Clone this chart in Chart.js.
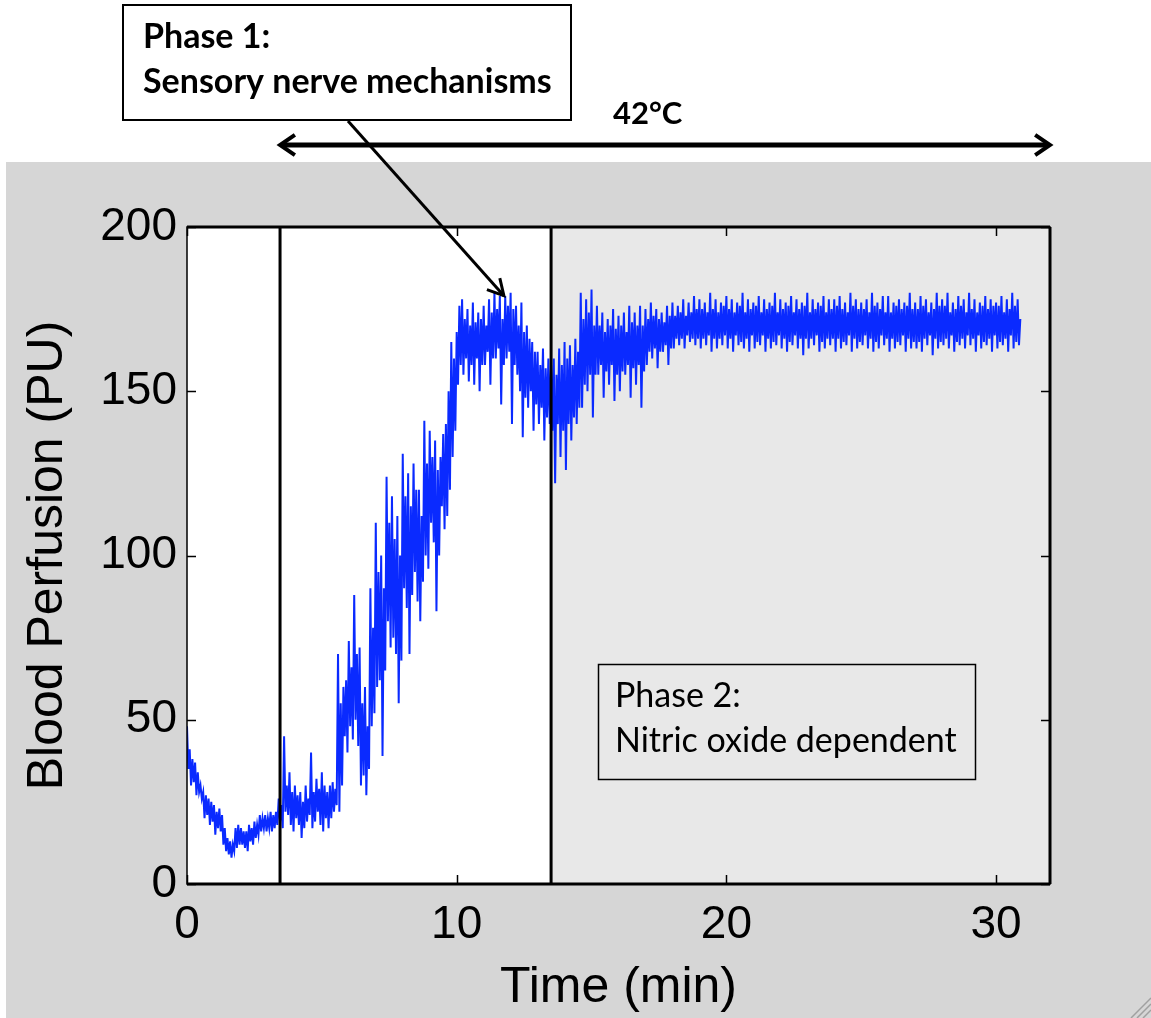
<!DOCTYPE html>
<html>
<head>
<meta charset="utf-8">
<script src="https://cdn.jsdelivr.net/npm/chart.js@4.4.1/dist/chart.umd.min.js"></script>
<style>
  html, body { margin: 0; padding: 0; background: #fff; }
  #wrap { position: relative; width: 1151px; height: 1018px; }
</style>
</head>
<body>
<div id="wrap"><canvas id="perfChart" width="1151" height="1018"></canvas></div>
<script>
// Laser Doppler trace, one reading every 0.05 min, one row per minute
const sampleStep = 0.05;
const perfusion = [
  48, 35, 41, 30, 38, 31, 37, 27, 34, 28, 30, 26, 28, 20, 27, 21, 26, 18, 25, 19,
  24, 15, 22, 17, 23, 16, 21, 12, 17, 10, 14, 9, 13, 8, 12, 10, 17, 11, 18, 12,
  17, 12, 16, 11, 16, 10, 18, 13, 17, 12, 19, 14, 18, 15, 21, 16, 20, 17, 21, 16,
  20, 17, 22, 16, 21, 17, 22, 18, 26, 19, 24, 17, 45, 22, 30, 21, 34, 18, 28, 16,
  30, 20, 27, 18, 28, 14, 25, 17, 30, 19, 26, 21, 40, 17, 28, 19, 32, 22, 29, 18,
  34, 16, 30, 20, 28, 17, 30, 20, 31, 22, 29, 24, 70, 22, 55, 30, 60, 45, 62, 40,
  74, 48, 66, 44, 88, 50, 70, 42, 72, 30, 55, 33, 60, 27, 48, 35, 90, 48, 78, 52,
  110, 60, 95, 62, 100, 39, 90, 65, 124, 80, 110, 72, 118, 75, 105, 70, 112, 55, 100, 68,
  131, 90, 118, 84, 125, 70, 115, 88, 128, 95, 120, 86, 120, 80, 112, 92, 141, 100, 128, 96,
  138, 110, 130, 104, 135, 83, 126, 100, 130, 115, 137, 108, 140, 112, 150, 120, 165, 130, 160, 138,
  168, 152, 176, 158, 178, 155, 172, 160, 175, 153, 170, 158, 177, 152, 171, 160, 174, 150, 172, 158,
  176, 158, 170, 162, 178, 152, 174, 160, 180, 160, 175, 163, 179, 146, 172, 158, 179, 160, 176, 162,
  180, 140, 175, 158, 176, 155, 170, 150, 177, 136, 168, 148, 170, 145, 166, 150, 165, 138, 162, 146,
  162, 140, 158, 145, 163, 135, 157, 142, 160, 140, 158, 138, 160, 122, 155, 140, 163, 130, 158, 138,
  165, 126, 160, 140, 164, 135, 158, 142, 166, 140, 162, 145, 180, 145, 172, 152, 178, 150, 174, 155,
  181, 142, 170, 155, 176, 155, 170, 158, 174, 148, 168, 156, 172, 152, 170, 158, 175, 147, 169, 155,
  173, 150, 170, 156, 174, 155, 168, 158, 176, 148, 171, 157, 174, 152, 170, 158, 176, 145, 170, 156,
  175, 158, 172, 162, 177, 160, 173, 163, 175, 157, 172, 162, 174, 162, 171, 164, 176, 158, 173, 163,
  177, 163, 173, 166, 176, 164, 174, 166, 178, 163, 173, 167, 177, 165, 174, 166, 179, 164, 175, 166,
  178, 163, 175, 166, 177, 164, 174, 167, 180, 162, 175, 166, 178, 163, 174, 166, 177, 164, 176, 167,
  179, 163, 175, 166, 178, 162, 174, 167, 177, 164, 176, 165, 180, 163, 174, 166, 178, 162, 175, 167,
  177, 163, 176, 165, 179, 164, 174, 167, 178, 162, 175, 166, 177, 163, 176, 165, 180, 164, 174, 167,
  178, 163, 175, 166, 177, 162, 176, 165, 179, 164, 174, 167, 178, 163, 175, 166, 177, 161, 176, 166,
  180, 163, 174, 166, 178, 164, 175, 167, 177, 162, 176, 165, 179, 163, 174, 166, 178, 164, 175, 166,
  178, 162, 176, 166, 179, 163, 175, 165, 177, 164, 174, 167, 180, 162, 176, 166, 178, 163, 175, 165,
  177, 164, 175, 167, 178, 163, 174, 166, 180, 162, 176, 165, 177, 163, 175, 167, 179, 164, 174, 166,
  179, 162, 174, 166, 177, 163, 176, 165, 178, 164, 175, 167, 177, 162, 176, 166, 180, 163, 175, 165,
  177, 163, 175, 165, 179, 162, 176, 166, 178, 164, 174, 167, 177, 161, 175, 166, 180, 163, 176, 165,
  178, 164, 176, 166, 180, 163, 174, 167, 177, 162, 175, 165, 179, 164, 176, 166, 178, 163, 174, 167,
  180, 164, 175, 166, 178, 162, 174, 167, 177, 163, 176, 165, 179, 164, 175, 166, 178, 162, 176, 167,
  177, 163, 176, 165, 179, 164, 174, 166, 178, 162, 175, 167, 180, 163, 176, 165, 178, 164, 172
];

// axis ticks
const xTicks = [0, 10, 20, 30];
const yTicks = [0, 50, 100, 150, 200];
const xMax = 32;
const yMax = 200;

// phase boundaries (min) and annotation texts
const phase1Start = 3.45;
const phase2Start = 13.5;
const phase1Lines = ['Phase 1:', 'Sensory nerve mechanisms'];
const phase2Lines = ['Phase 2:', 'Nitric oxide dependent'];
const heatLabel = '42°C';
const peakPoint = { t: 11.75, v: 180 };

const figGray = '#d6d6d6';
const phase2Gray = '#e8e8e8';
const traceBlue = 'rgb(10, 42, 255)';

// fit a font size so that text gets a given width
function fitSize(ctx, text, weight, family, width) {
  ctx.font = `${weight} 100px ${family}`;
  return Math.round(100 * width / ctx.measureText(text).width);
}

function openHead(ctx, x, y, angle, len, spread) {
  ctx.beginPath();
  ctx.moveTo(x - len * Math.cos(angle - spread), y - len * Math.sin(angle - spread));
  ctx.lineTo(x, y);
  ctx.lineTo(x - len * Math.cos(angle + spread), y - len * Math.sin(angle + spread));
  ctx.stroke();
}

const backdrop = {
  id: 'backdrop',
  beforeDraw(chart) {
    const ctx = chart.ctx;
    const { left, right, top, bottom } = chart.chartArea;
    const xs = chart.scales.x;
    ctx.save();
    ctx.fillStyle = '#fff';
    ctx.fillRect(0, 0, chart.width, chart.height);
    ctx.fillStyle = figGray;
    ctx.fillRect(6, 162, chart.width - 6, chart.height - 162);
    ctx.fillStyle = '#fff';
    ctx.fillRect(left, top, right - left, bottom - top);
    const p2 = xs.getPixelForValue(phase2Start);
    ctx.fillStyle = phase2Gray;
    ctx.fillRect(p2, top, right - p2, bottom - top);
    ctx.restore();
  }
};

const overlay = {
  id: 'overlay',
  afterDraw(chart) {
    const ctx = chart.ctx;
    const { left, right, top, bottom } = chart.chartArea;
    const xs = chart.scales.x;
    const ys = chart.scales.y;
    ctx.save();
    ctx.strokeStyle = '#000';
    ctx.lineCap = 'butt';

    // inward ticks, all four sides
    ctx.lineWidth = 1.5;
    ctx.beginPath();
    xTicks.forEach(t => {
      const px = Math.round(xs.getPixelForValue(t)) + 0.5;
      ctx.moveTo(px, bottom); ctx.lineTo(px, bottom - 9);
      ctx.moveTo(px, top); ctx.lineTo(px, top + 9);
    });
    yTicks.forEach(v => {
      const py = Math.round(ys.getPixelForValue(v)) + 0.5;
      ctx.moveTo(left, py); ctx.lineTo(left + 9, py);
      ctx.moveTo(right, py); ctx.lineTo(right - 9, py);
    });
    ctx.stroke();

    // axes box
    ctx.lineWidth = 1.5;
    ctx.strokeRect(left, top, right - left, bottom - top);
    ctx.lineWidth = 3;
    ctx.beginPath();
    ctx.moveTo(left, bottom); ctx.lineTo(right, bottom);
    ctx.moveTo(left, top); ctx.lineTo(right, top);
    ctx.moveTo(right, top); ctx.lineTo(right, bottom);
    ctx.stroke();

    // phase boundaries
    const p1 = xs.getPixelForValue(phase1Start);
    const p2 = xs.getPixelForValue(phase2Start);
    ctx.lineWidth = 3;
    ctx.beginPath();
    ctx.moveTo(p1, top); ctx.lineTo(p1, bottom);
    ctx.moveTo(p2, top); ctx.lineTo(p2, bottom);
    ctx.stroke();

    // 42°C double arrow
    const arrowY = 145;
    const aEnd = xs.getPixelForValue(xMax);
    ctx.lineWidth = 5;
    ctx.beginPath();
    ctx.moveTo(p1 + 2, arrowY); ctx.lineTo(aEnd - 2, arrowY);
    ctx.stroke();
    ctx.lineWidth = 4;
    openHead(ctx, aEnd, arrowY, 0, 18, 0.6);
    openHead(ctx, p1, arrowY, Math.PI, 18, 0.6);

    ctx.fillStyle = '#000';
    ctx.textBaseline = 'alphabetic';
    let fs = fitSize(ctx, heatLabel, 'bold', 'Lato', 69);
    ctx.font = `bold ${fs}px Lato`;
    ctx.fillText(heatLabel, 613, 124);

    // Phase 1 box + pointer
    ctx.fillStyle = '#fff';
    ctx.fillRect(123, 5, 448, 115);
    ctx.lineWidth = 2;
    ctx.strokeRect(123, 5, 448, 115);
    fs = fitSize(ctx, phase1Lines[1], 'bold', 'Lato', 410);
    ctx.font = `bold ${fs}px Lato`;
    ctx.fillStyle = '#000';
    ctx.fillText(phase1Lines[0], 143, 48);
    ctx.fillText(phase1Lines[1], 143, 93);

    const tipX = xs.getPixelForValue(peakPoint.t);
    const tipY = ys.getPixelForValue(peakPoint.v) + 3;
    const fromX = 348, fromY = 121;
    ctx.lineWidth = 3;
    ctx.beginPath();
    ctx.moveTo(fromX, fromY); ctx.lineTo(tipX, tipY);
    ctx.stroke();
    openHead(ctx, tipX, tipY, Math.atan2(tipY - fromY, tipX - fromX), 18, 0.5);

    // Phase 2 box
    ctx.fillStyle = phase2Gray;
    ctx.fillRect(598, 664, 377, 115);
    ctx.lineWidth = 1.5;
    ctx.strokeRect(598.5, 664.5, 377, 115);
    fs = fitSize(ctx, phase2Lines[1], 'normal', 'Lato', 342);
    ctx.font = `normal ${fs}px Lato`;
    ctx.fillStyle = '#000';
    ctx.fillText(phase2Lines[0], 615, 707);
    ctx.fillText(phase2Lines[1], 615, 752);

    // window resize grip
    ctx.strokeStyle = '#a0a0a0';
    ctx.lineWidth = 1.5;
    ctx.beginPath();
    [8, 14, 20].forEach(d => {
      ctx.moveTo(chart.width - d, chart.height); ctx.lineTo(chart.width, chart.height - d);
    });
    ctx.stroke();
    ctx.restore();
  }
};

const ctx = document.getElementById('perfChart').getContext('2d');
new Chart(ctx, {
  type: 'line',
  data: {
    datasets: [{
      label: 'Blood perfusion',
      data: perfusion.map((v, i) => ({ x: +(i * sampleStep).toFixed(2), y: v })),
      borderColor: traceBlue,
      borderWidth: 2,
      pointRadius: 0,
      tension: 0,
      fill: false
    }]
  },
  options: {
    responsive: false,
    animation: false,
    devicePixelRatio: 1,
    layout: { padding: { top: 227, right: 101, left: 0, bottom: 0 } },
    plugins: { legend: { display: false }, tooltip: { enabled: false } },
    scales: {
      x: {
        type: 'linear',
        min: 0,
        max: xMax,
        afterFit: s => { s.height = 134; },
        afterBuildTicks: s => { s.ticks = xTicks.map(v => ({ value: v })); },
        grid: { display: false, drawTicks: false },
        border: { display: false },
        ticks: {
          color: '#000',
          padding: 14,
          maxRotation: 0,
          font: { family: 'Liberation Sans', size: 46 }
        },
        title: {
          display: true,
          text: 'Time (min)',
          color: '#000',
          padding: { top: 0, bottom: 0 },
          font: { family: 'Liberation Sans', size: 50 }
        }
      },
      y: {
        min: 0,
        max: yMax,
        afterFit: s => { s.width = 187; },
        afterBuildTicks: s => { s.ticks = yTicks.map(v => ({ value: v })); },
        grid: { display: false, drawTicks: false },
        border: { display: false },
        ticks: {
          color: '#000',
          padding: 10,
          font: { family: 'Liberation Sans', size: 46 }
        },
        title: {
          display: true,
          text: 'Blood Perfusion (PU)',
          color: '#000',
          padding: { top: 18, bottom: 0 },
          font: { family: 'Liberation Sans', size: 50 }
        }
      }
    }
  },
  plugins: [backdrop, overlay]
});
</script>
</body>
</html>
